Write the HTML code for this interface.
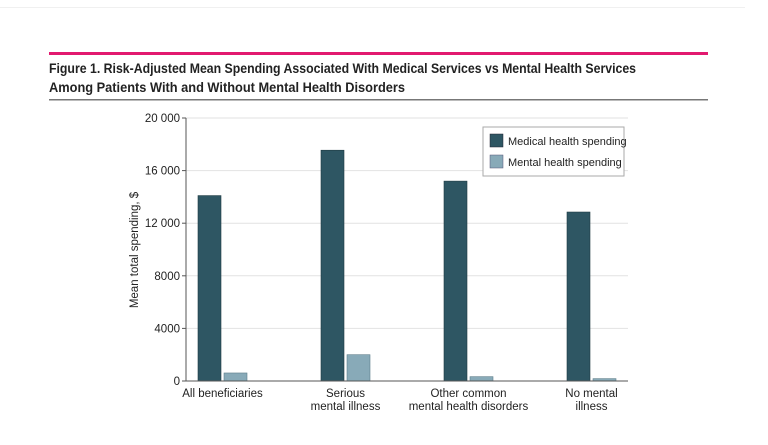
<!DOCTYPE html>
<html><head><meta charset="utf-8"><style>
body{margin:0;background:#fff;}
svg{display:block;font-family:"Liberation Sans",sans-serif;}
</style></head><body>
<svg width="768" height="445" viewBox="0 0 768 445">
<rect x="0" y="0" width="768" height="445" fill="#fff"/>
<line x1="0" y1="7.5" x2="745" y2="7.5" stroke="#f0f0f0"/>
<rect x="49" y="52" width="659" height="3" fill="#e2196f"/>
<text x="49" y="73" font-size="14" font-weight="bold" fill="#222" textLength="587" lengthAdjust="spacingAndGlyphs">Figure 1. Risk-Adjusted Mean Spending Associated With Medical Services vs Mental Health Services</text>
<text x="49" y="92" font-size="14" font-weight="bold" fill="#222" textLength="356" lengthAdjust="spacingAndGlyphs">Among Patients With and Without Mental Health Disorders</text>
<rect x="49" y="99" width="659" height="1.5" fill="#777"/>
<g id="grid"></g>
<g id="bars"></g>
<g id="axes"></g>
<text transform="translate(138,250) rotate(-90)" text-anchor="middle" font-size="11.5" fill="#222">Mean total spending, $</text>
<g>
<rect x="483" y="127" width="141" height="49" fill="#fff" stroke="#aaa"/>
<rect x="490" y="134" width="13" height="13" fill="#2e5663" stroke="#223" stroke-width="0.5"/>
<text x="508" y="145" font-size="11" fill="#222">Medical health spending</text>
<rect x="490" y="155" width="13" height="13" fill="#88aab8" stroke="#557" stroke-width="0.5"/>
<text x="508" y="166" font-size="11" fill="#222">Mental health spending</text>
</g>
</svg>
<script>
const categories = [["All beneficiaries"],["Serious","mental illness"],["Other common","mental health disorders"],["No mental","illness"]];
const medical = [14100, 17550, 15200, 12850];
const mental = [610, 2000, 330, 180];
const yTicks = [0, 4000, 8000, 12000, 16000, 20000];
const yTickLabels = ["0","4000","8000","12 000","16 000","20 000"];
const NS="http://www.w3.org/2000/svg";
const x0=186, x1=628, yBase=381, yTop=118, yMax=20000;
const y = v => yBase - v/yMax*(yBase-yTop);
const groupW=(x1-x0)/categories.length;
const gc = i => x0 + 36.5 + i*123;
function mk(tag, attrs, parent){const e=document.createElementNS(NS,tag);for(const k in attrs)e.setAttribute(k,attrs[k]);parent.appendChild(e);return e;}
const grid=document.getElementById('grid'), bars=document.getElementById('bars'), axes=document.getElementById('axes');
yTicks.forEach((t,i)=>{
  if(t>0){const l=mk('line',{x1:x0,x2:x1,y1:y(t),y2:y(t),stroke:'#e2e2e2'},grid);
  
  }
  const tk=mk('line',{x1:x0-4,x2:x0,y1:y(t),y2:y(t),stroke:'#555'},axes);
  
  
  const tx=mk('text',{x:x0-6,y:y(t)+4,'text-anchor':'end','font-size':'11.5',fill:'#222'},axes);
  tx.textContent=yTickLabels[i];
  
  
});
const bw=23;
categories.forEach((c,i)=>{
  const cx=gc(i);
  const b1=mk('rect',{x:cx-bw-1.5,y:y(medical[i]),width:bw,height:yBase-y(medical[i]),fill:'#2e5663',stroke:'#1e3a44','stroke-width':0.6},bars);
  
  
  const b2=mk('rect',{x:cx+1.5,y:y(mental[i]),width:bw,height:yBase-y(mental[i]),fill:'#88aab8',stroke:'#5c7d8a','stroke-width':0.6},bars);
  
  
  c.forEach((line,j)=>{
    const t=mk('text',{x:cx,y:397+j*13,'text-anchor':'middle','font-size':'11.5',fill:'#222'},axes);
    t.textContent=line;
    
    
  });
});
const ya=mk('line',{x1:x0,x2:x0,y1:yTop,y2:yBase,stroke:'#555'},axes);


const xa=mk('line',{x1:x0,x2:x1,y1:yBase,y2:yBase,stroke:'#555'},axes);


</script>
</body></html>
